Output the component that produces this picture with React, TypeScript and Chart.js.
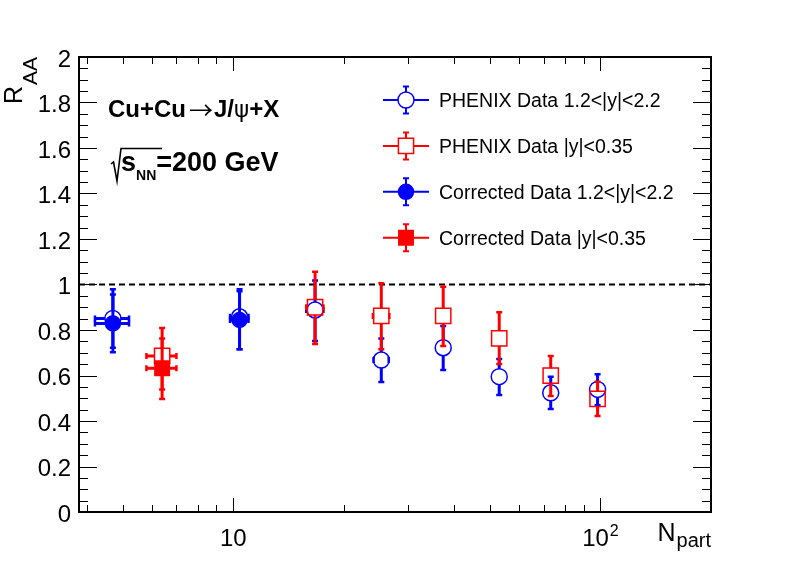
"use client"

import { useEffect, useRef } from "react"
import { Chart, registerables, type ChartConfiguration, type Plugin } from "chart.js"

Chart.register(...registerables)

// PHENIX Data 1.2<|y|<2.2
const npartFwd = [4.7, 10.4, 16.7, 25.3, 37.3, 53.0, 73.2, 98.2]
const raaFwd = [0.851, 0.858, 0.888, 0.668, 0.722, 0.595, 0.524, 0.539]
const raaFwdUp = [0.128, 0.121, 0.13, 0.095, 0.096, 0.078, 0.071, 0.066]
const raaFwdDown = [0.129, 0.143, 0.136, 0.097, 0.098, 0.081, 0.071, 0.07]
const npartFwdErr = [0.5, 0.6, 0.9, 1.2, 0, 0, 0, 0]

// PHENIX Data |y|<0.35
const npartMid = [6.4, 16.7, 25.3, 37.3, 53.0, 73.2, 98.2]
const raaMid = [0.686, 0.9, 0.862, 0.862, 0.763, 0.599, 0.497]
const raaMidUp = [0.123, 0.156, 0.143, 0.128, 0.115, 0.087, 0.076]
const raaMidDown = [0.147, 0.162, 0.147, 0.132, 0.112, 0.089, 0.075]
const npartMidErr = [0.6, 0.9, 1.3, 0, 0, 0, 0]

// Corrected Data 1.2<|y|<2.2
const npartCorrFwd = [4.7, 10.4]
const raaCorrFwd = [0.829, 0.844]
const raaCorrFwdUp = [0.127, 0.126]
const raaCorrFwdDown = [0.127, 0.129]
const npartCorrFwdErr = [0.5, 0.6]

// Corrected Data |y|<0.35
const npartCorrMid = [6.4]
const raaCorrMid = [0.632]
const raaCorrMidUp = [0.131]
const raaCorrMidDown = [0.135]
const npartCorrMidErr = [0.6]

// axes
const xMin = 3.8
const xMax = 200
const yMin = 0
const yMax = 2
const yTickValues = [0, 0.2, 0.4, 0.6, 0.8, 1, 1.2, 1.4, 1.6, 1.8, 2]
const yTickLabels = ["0", "0.2", "0.4", "0.6", "0.8", "1", "1.2", "1.4", "1.6", "1.8", "2"]
const xTickValues = [10, 100]
const xTickLabels = [["10", ""], ["10", "2"]]
const xMinorTicks = [4, 5, 6, 7, 8, 9, 20, 30, 40, 50, 60, 70, 80, 90]
const referenceLine = 1

const FONT = '"Liberation Sans", Arial, Helvetica, sans-serif'
const BLUE = "#0000ff"
const RED = "#ff0000"
const CAP = 3

interface Series {
  label: string
  color: string
  marker: "circle" | "rect"
  filled: boolean
  radius: number // chart.js point radius
  half: number // half size of the marker, gap for the error bars
  x: number[]
  y: number[]
  up: number[]
  down: number[]
  xErr: number[]
}

const series: Series[] = [
  {
    label: "PHENIX Data 1.2<|y|<2.2",
    color: BLUE,
    marker: "circle",
    filled: false,
    radius: 8,
    half: 8,
    x: npartFwd,
    y: raaFwd,
    up: raaFwdUp,
    down: raaFwdDown,
    xErr: npartFwdErr,
  },
  {
    label: "PHENIX Data |y|<0.35",
    color: RED,
    marker: "rect",
    filled: false,
    radius: 10.8,
    half: 7.6,
    x: npartMid,
    y: raaMid,
    up: raaMidUp,
    down: raaMidDown,
    xErr: npartMidErr,
  },
  {
    label: "Corrected Data 1.2<|y|<2.2",
    color: BLUE,
    marker: "circle",
    filled: true,
    radius: 7.5,
    half: 7.5,
    x: npartCorrFwd,
    y: raaCorrFwd,
    up: raaCorrFwdUp,
    down: raaCorrFwdDown,
    xErr: npartCorrFwdErr,
  },
  {
    label: "Corrected Data |y|<0.35",
    color: RED,
    marker: "rect",
    filled: true,
    radius: 10.2,
    half: 7.2,
    x: npartCorrMid,
    y: raaCorrMid,
    up: raaCorrMidUp,
    down: raaCorrMidDown,
    xErr: npartCorrMidErr,
  },
]

// vertical + horizontal error bars with end caps, broken at the marker
function strokeBars(
  ctx: CanvasRenderingContext2D,
  px: number,
  py: number,
  top: number,
  bot: number,
  lx: number | null,
  rx: number | null,
  g: number,
) {
  ctx.lineWidth = 3
  ctx.beginPath()
  if (top < py - g) {
    ctx.moveTo(px, py - g)
    ctx.lineTo(px, top)
  }
  if (bot > py + g) {
    ctx.moveTo(px, py + g)
    ctx.lineTo(px, bot)
  }
  if (lx !== null && rx !== null) {
    if (lx < px - g) {
      ctx.moveTo(px - g, py)
      ctx.lineTo(lx, py)
    }
    if (rx > px + g) {
      ctx.moveTo(px + g, py)
      ctx.lineTo(rx, py)
    }
  }
  ctx.stroke()

  ctx.lineWidth = 2.5
  ctx.beginPath()
  ctx.moveTo(px - CAP, top)
  ctx.lineTo(px + CAP, top)
  ctx.moveTo(px - CAP, bot)
  ctx.lineTo(px + CAP, bot)
  if (lx !== null && rx !== null) {
    ctx.moveTo(lx, py - CAP)
    ctx.lineTo(lx, py + CAP)
    ctx.moveTo(rx, py - CAP)
    ctx.lineTo(rx, py + CAP)
  }
  ctx.stroke()
}

function drawMarker(ctx: CanvasRenderingContext2D, s: Series, x: number, y: number) {
  ctx.save()
  ctx.strokeStyle = s.color
  ctx.fillStyle = s.color
  ctx.lineWidth = 1.5
  ctx.beginPath()
  if (s.marker === "circle") ctx.arc(x, y, s.radius, 0, Math.PI * 2)
  else ctx.rect(x - s.half, y - s.half, s.half * 2, s.half * 2)
  if (s.filled) ctx.fill()
  ctx.stroke()
  ctx.restore()
}

const errorBars: Plugin<"scatter"> = {
  id: "errorBars",
  beforeDatasetsDraw(chart) {
    const { ctx, chartArea } = chart
    const y = chart.scales.y.getPixelForValue(referenceLine)
    ctx.save()
    ctx.strokeStyle = "#000"
    ctx.lineWidth = 2
    ctx.setLineDash([6, 4])
    ctx.beginPath()
    ctx.moveTo(chartArea.left, y)
    ctx.lineTo(chartArea.right, y)
    ctx.stroke()
    ctx.restore()
  },
  beforeDatasetDraw(chart, args) {
    const s = series[args.index]
    if (!s) return
    const { ctx, chartArea } = chart
    const xs = chart.scales.x
    const ys = chart.scales.y
    ctx.save()
    ctx.beginPath()
    ctx.rect(chartArea.left, chartArea.top, chartArea.width, chartArea.height)
    ctx.clip()
    ctx.strokeStyle = s.color
    s.x.forEach((xv, i) => {
      const px = xs.getPixelForValue(xv)
      const py = ys.getPixelForValue(s.y[i])
      const top = ys.getPixelForValue(s.y[i] + s.up[i])
      const bot = ys.getPixelForValue(s.y[i] - s.down[i])
      const e = s.xErr[i]
      const lx = e > 0 ? xs.getPixelForValue(xv - e) : null
      const rx = e > 0 ? xs.getPixelForValue(xv + e) : null
      strokeBars(ctx, px, py, top, bot, lx, rx, s.half)
    })
    ctx.restore()
  },
}

const frameAndText: Plugin<"scatter"> = {
  id: "frameAndText",
  afterDraw(chart) {
    const { ctx, chartArea } = chart
    const { left, right, top, bottom } = chartArea
    const xs = chart.scales.x
    const ys = chart.scales.y
    ctx.save()

    // ticks on all four sides
    ctx.strokeStyle = "#000"
    ctx.lineWidth = 1
    ctx.beginPath()
    for (let v = yMin; v <= yMax + 1e-9; v += 0.05) {
      const y = Math.round(ys.getPixelForValue(v)) + 0.5
      const major = yTickValues.some((t) => Math.abs(t - v) < 1e-6)
      const len = major ? 18 : 9
      ctx.moveTo(left, y)
      ctx.lineTo(left + len, y)
      ctx.moveTo(right, y)
      ctx.lineTo(right - len, y)
    }
    const xTicks = [...xMinorTicks.map((v) => [v, 7]), ...xTickValues.map((v) => [v, 14])]
    xTicks.forEach(([v, len]) => {
      const x = Math.round(xs.getPixelForValue(v)) + 0.5
      ctx.moveTo(x, bottom)
      ctx.lineTo(x, bottom - len)
      ctx.moveTo(x, top)
      ctx.lineTo(x, top + len)
    })
    ctx.stroke()

    // frame
    ctx.lineWidth = 2
    ctx.strokeRect(left, top, right - left, bottom - top)

    // y tick labels
    ctx.fillStyle = "#000"
    ctx.font = `24px ${FONT}`
    ctx.textAlign = "right"
    ctx.textBaseline = "alphabetic"
    yTickValues.forEach((v, i) => {
      const y = ys.getPixelForValue(v)
      ctx.fillText(yTickLabels[i], 71, y + 9.5)
    })

    // x tick labels (base + superscript)
    xTickValues.forEach((v, i) => {
      const [base, sup] = xTickLabels[i]
      const x = xs.getPixelForValue(v)
      ctx.font = `24px ${FONT}`
      const wb = ctx.measureText(base).width
      ctx.font = `16px ${FONT}`
      const ws = sup ? ctx.measureText(sup).width + 1 : 0
      const x0 = x - (wb + ws) / 2
      ctx.textAlign = "left"
      ctx.font = `24px ${FONT}`
      ctx.fillText(base, x0, 546)
      if (sup) {
        ctx.font = `16px ${FONT}`
        ctx.fillText(sup, x0 + wb + 1, 536)
      }
    })

    // axis titles
    ctx.textAlign = "right"
    ctx.font = `20px ${FONT}`
    const wPart = ctx.measureText("part").width
    ctx.fillText("part", right, 547)
    ctx.font = `25px ${FONT}`
    ctx.fillText("N", right - wPart - 1, 541)

    ctx.save()
    ctx.translate(0, top)
    ctx.rotate(-Math.PI / 2)
    ctx.textAlign = "right"
    ctx.font = `21px ${FONT}`
    const wAA = ctx.measureText("AA").width
    ctx.fillText("AA", 0, 37)
    ctx.font = `25px ${FONT}`
    ctx.fillText("R", -wAA - 1, 22)
    ctx.restore()

    // legend
    series.forEach((s, i) => {
      const cy = 100 + i * 45.9
      const cx = 406
      ctx.strokeStyle = s.color
      ctx.lineWidth = 2
      ctx.beginPath()
      ctx.moveTo(383, cy)
      ctx.lineTo(cx - s.half, cy)
      ctx.moveTo(cx + s.half, cy)
      ctx.lineTo(429, cy)
      ctx.moveTo(cx, cy - s.half)
      ctx.lineTo(cx, cy - 13.5)
      ctx.moveTo(cx, cy + s.half)
      ctx.lineTo(cx, cy + 13.5)
      ctx.moveTo(cx - CAP, cy - 13.5)
      ctx.lineTo(cx + CAP, cy - 13.5)
      ctx.moveTo(cx - CAP, cy + 13.5)
      ctx.lineTo(cx + CAP, cy + 13.5)
      ctx.stroke()
      drawMarker(ctx, s, cx, cy)
      ctx.fillStyle = "#000"
      ctx.textAlign = "left"
      ctx.font = `19.5px ${FONT}`
      ctx.fillText(s.label, 439, cy + 7)
    })

    // reaction: Cu+Cu -> J/psi + X
    ctx.fillStyle = "#000"
    ctx.textAlign = "left"
    ctx.font = `bold 24px ${FONT}`
    ctx.fillText("Cu+Cu", 108, 117)
    ctx.font = `24px "Noto Sans CJK SC", "DejaVu Sans", ${FONT}`
    ctx.fillText("\u2192", 189, 119)
    ctx.font = `bold 24px ${FONT}`
    ctx.fillText("J/", 214, 117)
    const wj = ctx.measureText("J/").width
    ctx.font = `23px "DejaVu Sans", ${FONT}`
    ctx.fillText("\u03c8", 214 + wj, 117)
    const wpsi = ctx.measureText("\u03c8").width
    ctx.font = `bold 24px ${FONT}`
    ctx.fillText("+X", 214 + wj + wpsi, 117)

    // sqrt(s_NN) = 200 GeV
    ctx.strokeStyle = "#000"
    ctx.lineWidth = 1.6
    ctx.beginPath()
    ctx.moveTo(111, 164)
    ctx.lineTo(113.5, 162)
    ctx.lineTo(117, 181)
    ctx.lineTo(121, 148.5)
    ctx.lineTo(162, 148.5)
    ctx.stroke()
    ctx.font = `bold 27px ${FONT}`
    ctx.fillText("s", 121, 171)
    const ws = ctx.measureText("s").width
    ctx.font = `bold 14px ${FONT}`
    ctx.fillText("NN", 121 + ws, 180)
    const wnn = ctx.measureText("NN").width
    ctx.font = `bold 27px ${FONT}`
    ctx.fillText("=200 GeV", 121 + ws + wnn, 171)

    ctx.restore()
  },
}

export default function App() {
  const canvasRef = useRef<HTMLCanvasElement>(null)

  useEffect(() => {
    if (!canvasRef.current) return

    const config: ChartConfiguration<"scatter"> = {
      type: "scatter",
      data: {
        datasets: series.map((s, i) => ({
          label: s.label,
          data: s.x.map((x, j) => ({ x, y: s.y[j] })),
          pointStyle: s.marker,
          pointRadius: s.radius,
          pointHoverRadius: s.radius,
          borderWidth: 1.5,
          borderColor: s.color,
          backgroundColor: s.filled ? s.color : "rgba(0,0,0,0)",
          showLine: false,
          order: series.length - i,
        })),
      },
      options: {
        responsive: false,
        animation: false,
        devicePixelRatio: 1,
        layout: { padding: { left: 79, right: 78, top: 57, bottom: 57 } },
        events: [],
        scales: {
          x: { type: "logarithmic", min: xMin, max: xMax, display: false },
          y: { type: "linear", min: yMin, max: yMax, display: false },
        },
        plugins: {
          legend: { display: false },
          tooltip: { enabled: false },
        },
      },
      plugins: [errorBars, frameAndText],
    }

    const chart = new Chart(canvasRef.current, config)
    return () => chart.destroy()
  }, [])

  return (
    <div style={{ position: "fixed", left: 0, top: 0, width: 789, height: 569, background: "#fff" }}>
      <canvas ref={canvasRef} width={789} height={569} />
    </div>
  )
}
